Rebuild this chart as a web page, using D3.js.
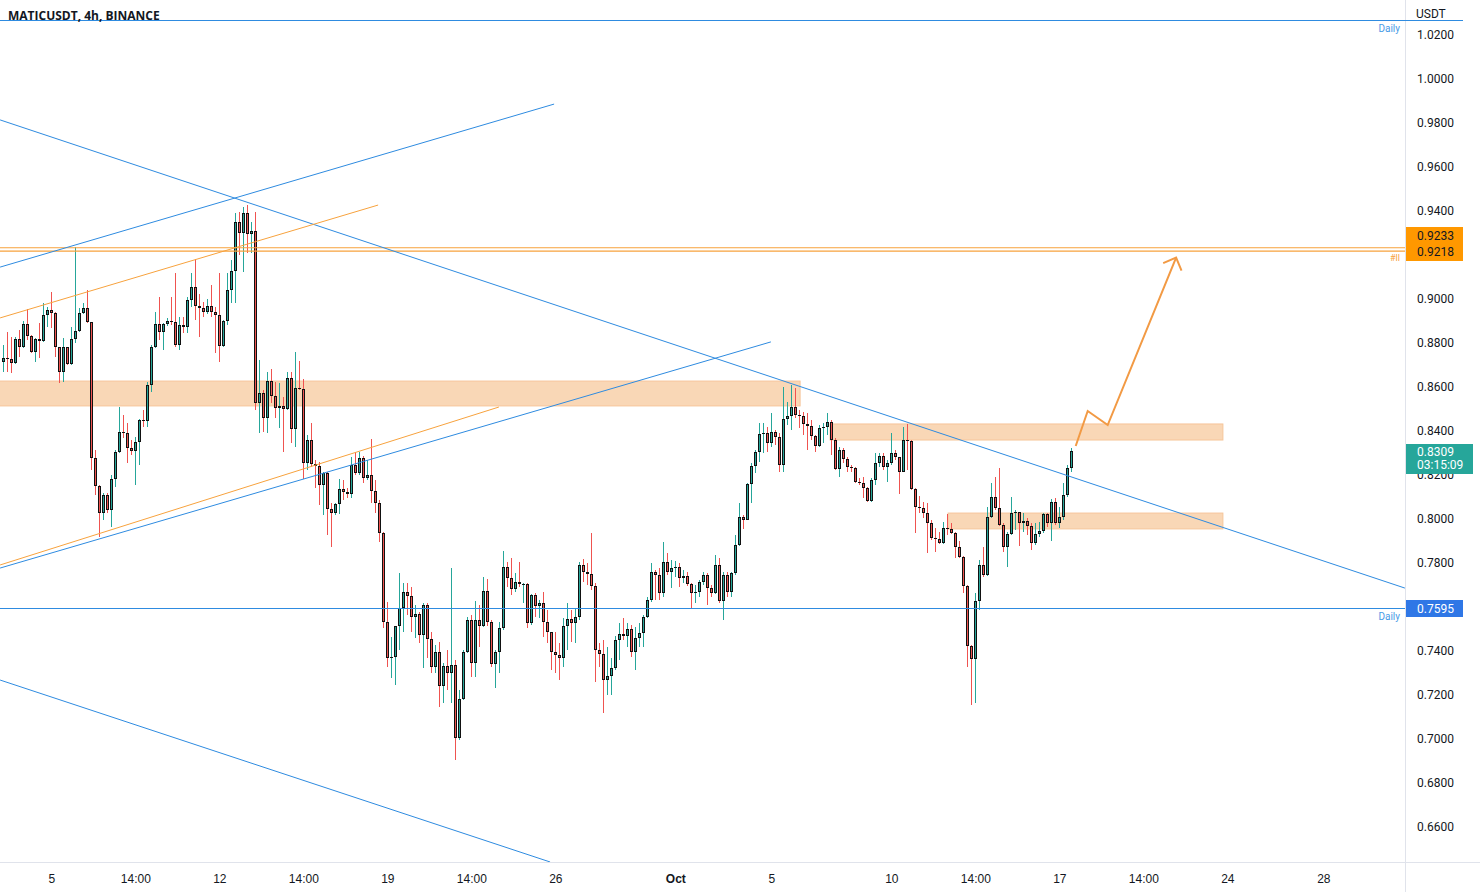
<!DOCTYPE html>
<html><head><meta charset="utf-8">
<script src="https://cdn.jsdelivr.net/npm/d3@7"></script>
<style>body{margin:0;background:#fff;}svg{display:block;font-family:Roboto,"Liberation Sans",Arial,sans-serif;}</style>
</head><body><svg id="chart" width="1480" height="892"></svg>
<script>
// ---- DATA (MATICUSDT 4h, bar index 0 = Sep 3 02:00) ----
const candleOpen = [.8714,.8732,.8727,.8709,.8818,.8782,.8886,.8832,.8759,.8818,.8809,.8927,.8950,.8936,.8782,.8668,.8782,.8705,.8818,.8855,.8936,.8959,.8895,.8277,.8150,.8027,.8109,.8041,.8182,.8305,.8395,.8391,.8323,.8309,.8350,.8450,.8445,.8609,.8782,.8886,.8850,.8886,.8900,.8895,.8791,.8882,.8873,.8995,.9055,.8968,.8959,.8941,.8968,.8941,.8927,.8786,.8900,.9041,.9127,.9350,.9300,.9391,.9295,.9309,.8527,.8573,.8459,.8627,.8559,.8505,.8514,.8500,.8641,.8409,.8595,.8591,.8255,.8359,.8250,.8241,.8155,.8209,.8045,.8027,.8068,.8136,.8123,.8114,.8245,.8209,.8277,.8186,.8200,.8127,.8073,.7936,.7532,.7368,.7373,.7514,.7595,.7668,.7650,.7555,.7568,.7473,.7609,.7455,.7327,.7395,.7241,.7332,.7300,.7336,.7005,.7182,.7395,.7541,.7345,.7541,.7514,.7673,.7532,.7341,.7395,.7505,.7782,.7732,.7682,.7714,.7705,.7705,.7527,.7655,.7605,.7618,.7532,.7486,.7395,.7382,.7368,.7514,.7545,.7527,.7555,.7791,.7759,.7750,.7695,.7405,.7386,.7268,.7286,.7323,.7450,.7477,.7468,.7500,.7395,.7459,.7482,.7555,.7632,.7759,.7745,.7664,.7805,.7759,.7777,.7782,.7732,.7741,.7705,.7664,.7668,.7714,.7745,.7686,.7664,.7791,.7627,.7745,.7668,.7755,.7882,.8009,.7995,.8159,.8241,.8305,.8386,.8391,.8345,.8395,.8373,.8245,.8455,.8468,.8509,.8473,.8468,.8432,.8423,.8377,.8332,.8414,.8418,.8441,.8359,.8227,.8314,.8273,.8236,.8232,.8168,.8164,.8141,.8082,.8177,.8255,.8286,.8236,.8255,.8300,.8282,.8214,.8359,.8355,.8136,.8055,.8050,.8027,.7982,.7914,.7909,.7891,.7959,.7955,.7936,.7873,.7827,.7695,.7423,.7364,.7627,.7791,.7745,.8009,.8100,.8050,.7973,.7873,.7932,.8027,.8032,.7982,.7991,.7968,.7891,.7932,.7945,.8023,.7982,.8077,.7982,.8009,.8109,.8232];
const candleHigh = [.8791,.8850,.8827,.8827,.8859,.8900,.8955,.8836,.8823,.8891,.8982,.8964,.9032,.8941,.8782,.8823,.8782,.8873,.9236,.8959,.8982,.9041,.8895,.8314,.8155,.8118,.8118,.8200,.8314,.8509,.8473,.8436,.8359,.8373,.8455,.8495,.8623,.8791,.8941,.9009,.8891,.8914,.9009,.9118,.8918,.8918,.9009,.9118,.9182,.9023,.8986,.9000,.9064,.8964,.9118,.8905,.9118,.9177,.9391,.9395,.9418,.9427,.9350,.9395,.8723,.8586,.8668,.8682,.8623,.8618,.8555,.8668,.8668,.8759,.8718,.8636,.8382,.8436,.8268,.8259,.8214,.8214,.8073,.8073,.8182,.8177,.8141,.8282,.8305,.8305,.8286,.8268,.8364,.8177,.8086,.7941,.7623,.7464,.7464,.7755,.7709,.7709,.7691,.7609,.7577,.7618,.7618,.7486,.7427,.7441,.7345,.7405,.7777,.7359,.7223,.7405,.7555,.7564,.7627,.7609,.7736,.7727,.7541,.7405,.7532,.7855,.7805,.7823,.7755,.7805,.7709,.7709,.7659,.7664,.7632,.7668,.7586,.7486,.7486,.7436,.7550,.7618,.7586,.7595,.7805,.7818,.7800,.7936,.7709,.7436,.7450,.7418,.7368,.7468,.7527,.7550,.7527,.7518,.7509,.7527,.7564,.7645,.7800,.7768,.7777,.7895,.7845,.7814,.7809,.7800,.7768,.7759,.7709,.7700,.7723,.7759,.7755,.7700,.7836,.7823,.7759,.7759,.7759,.7927,.8073,.8018,.8164,.8255,.8314,.8436,.8436,.8418,.8482,.8405,.8391,.8600,.8532,.8609,.8595,.8495,.8486,.8482,.8450,.8382,.8427,.8436,.8482,.8450,.8368,.8327,.8323,.8282,.8245,.8236,.8186,.8191,.8145,.8186,.8300,.8300,.8300,.8268,.8391,.8314,.8282,.8418,.8432,.8359,.8141,.8105,.8077,.8073,.7995,.7959,.7941,.7986,.8023,.7982,.7941,.7900,.7832,.7700,.7427,.7664,.7814,.7873,.8055,.8164,.8191,.8232,.7982,.7941,.8100,.8041,.8032,.8027,.8005,.7982,.7982,.7986,.8027,.8027,.8091,.8095,.8055,.8164,.8245,.8323];
const candleLow = [.8668,.8668,.8664,.8705,.8736,.8777,.8814,.8755,.8714,.8732,.8805,.8873,.8868,.8736,.8618,.8623,.8700,.8700,.8800,.8850,.8932,.8891,.8223,.8109,.7918,.7995,.8027,.7964,.8145,.8300,.8368,.8255,.8291,.8155,.8245,.8418,.8418,.8577,.8777,.8814,.8768,.8877,.8882,.8782,.8768,.8845,.8845,.8964,.8905,.8827,.8918,.8932,.8918,.8755,.8714,.8782,.8882,.8982,.8982,.9200,.9123,.9209,.9209,.8495,.8391,.8395,.8391,.8527,.8459,.8414,.8305,.8495,.8345,.8327,.8586,.8182,.8223,.8236,.8141,.8064,.8018,.7927,.7873,.8018,.8023,.8086,.8095,.8095,.8200,.8200,.8164,.8177,.8073,.8027,.7895,.7505,.7327,.7277,.7245,.7405,.7486,.7564,.7486,.7459,.7436,.7323,.7368,.7300,.7300,.7145,.7164,.7223,.7164,.6905,.6995,.7177,.7391,.7282,.7282,.7418,.7509,.7514,.7327,.7232,.7300,.7495,.7691,.7655,.7668,.7691,.7618,.7505,.7518,.7555,.7550,.7464,.7436,.7314,.7300,.7268,.7327,.7405,.7441,.7436,.7541,.7714,.7700,.7677,.7259,.7327,.7118,.7200,.7200,.7314,.7359,.7450,.7418,.7373,.7314,.7418,.7418,.7550,.7623,.7632,.7632,.7645,.7745,.7686,.7736,.7691,.7709,.7695,.7595,.7618,.7645,.7700,.7609,.7645,.7659,.7618,.7541,.7645,.7645,.7745,.7877,.7955,.7995,.8073,.8209,.8259,.8300,.8305,.8327,.8336,.8214,.8214,.8427,.8405,.8459,.8414,.8382,.8314,.8359,.8305,.8327,.8345,.8382,.8291,.8223,.8191,.8255,.8214,.8214,.8164,.8155,.8095,.8077,.8077,.8155,.8236,.8223,.8168,.8245,.8268,.8114,.8214,.8223,.8132,.7936,.8027,.8005,.7845,.7905,.7850,.7886,.7886,.7927,.7932,.7823,.7823,.7664,.7327,.7155,.7164,.7586,.7736,.7741,.8005,.8041,.7968,.7850,.7782,.7927,.7950,.7877,.7941,.7927,.7859,.7882,.7918,.7936,.7964,.7900,.7973,.7959,.7995,.8100,.8214];
const candleClose = [.8732,.8727,.8709,.8818,.8782,.8886,.8832,.8759,.8818,.8809,.8927,.8950,.8936,.8782,.8668,.8782,.8705,.8818,.8855,.8936,.8959,.8895,.8277,.8150,.8027,.8109,.8041,.8182,.8305,.8395,.8391,.8323,.8309,.8350,.8450,.8445,.8609,.8782,.8886,.8850,.8886,.8900,.8895,.8791,.8882,.8873,.8995,.9055,.8968,.8959,.8941,.8968,.8941,.8927,.8786,.8900,.9041,.9127,.9350,.9300,.9391,.9295,.9309,.8527,.8573,.8459,.8627,.8559,.8505,.8514,.8500,.8641,.8409,.8595,.8591,.8255,.8359,.8250,.8241,.8155,.8209,.8045,.8027,.8068,.8136,.8123,.8114,.8245,.8209,.8277,.8186,.8200,.8127,.8073,.7936,.7532,.7368,.7373,.7514,.7595,.7668,.7650,.7555,.7568,.7473,.7609,.7455,.7327,.7395,.7241,.7332,.7300,.7336,.7005,.7182,.7395,.7541,.7345,.7541,.7514,.7673,.7532,.7341,.7395,.7505,.7782,.7732,.7682,.7714,.7705,.7705,.7527,.7655,.7605,.7618,.7532,.7486,.7395,.7382,.7368,.7514,.7545,.7527,.7555,.7791,.7759,.7750,.7695,.7405,.7386,.7268,.7286,.7323,.7450,.7477,.7468,.7500,.7395,.7459,.7482,.7555,.7632,.7759,.7745,.7664,.7805,.7759,.7777,.7782,.7732,.7741,.7705,.7664,.7668,.7714,.7745,.7686,.7664,.7791,.7627,.7745,.7668,.7755,.7882,.8009,.7995,.8159,.8241,.8305,.8386,.8391,.8345,.8395,.8373,.8245,.8455,.8468,.8509,.8473,.8468,.8432,.8423,.8377,.8332,.8414,.8418,.8441,.8359,.8227,.8314,.8273,.8236,.8232,.8168,.8164,.8141,.8082,.8177,.8255,.8286,.8236,.8255,.8300,.8282,.8214,.8359,.8355,.8136,.8055,.8050,.8027,.7982,.7914,.7909,.7891,.7959,.7955,.7936,.7873,.7827,.7695,.7423,.7364,.7627,.7791,.7745,.8009,.8100,.8050,.7973,.7873,.7932,.8027,.8032,.7982,.7991,.7968,.7891,.7932,.7945,.8023,.7982,.8077,.7982,.8009,.8109,.8232,.8309];

// visible price-axis labels (0.9200 and 0.7600 sit under the level boxes)
const priceTicks = [1.02,1.00,0.98,0.96,0.94,0.90,0.88,0.86,0.84,0.82,0.80,0.78,0.74,0.72,0.70,0.68,0.66];
const timeTickIndex = [12,33,54,75,96,117,138,168,192,222,243,264,285,306,330];
const timeTickLabels = ["5","14:00","12","14:00","19","14:00","26","Oct","5","10","14:00","17","14:00","24","28"];
const boldTimeLabels = ["Oct"];

// horizontal levels
const dailyLevels = [1.0268, 0.7595];
const orangeLevels = [0.9233, 0.9218];
const lastPrice = 0.8309, countdown = "03:15:09";

// drawings: [barIndex, price]
const blueTrendLines = [
  [[-0.8,0.9814],[350.4,0.7686]],
  [[-0.8,0.9145],[137.7,0.9886]],
  [[-0.8,0.7777],[191.9,0.8805]],
  [[-0.8,0.7268],[136.7,0.6441]]
];
const orangeTrendLines = [
  [[-0.8,0.8914],[93.7,0.9427]],
  [[-0.8,0.7791],[123.9,0.8509]]
];
const arrowPath = [[268.1,0.8332],[271.1,0.8491],[276.1,0.8427],[293.2,0.9188]];
// zones: [startIndex, endIndex, top, bottom]
const zones = [
  [-1.5,199.2,0.8627,0.8514],
  [206.7,304.9,0.8432,0.8359],
  [236.2,304.9,0.8027,0.7955]
];

// ---- CHART ----
const W=1480,H=892,PR=1405,PB=862;
const UP="#26a69a", DN="#ef5350", BLUE="#2e8be0", ORANGE="#f7a23d";
const svg=d3.select("#chart");
svg.append("rect").attr("width",W).attr("height",H).attr("fill","#fff");
const x=d3.scaleLinear().domain([0,1]).range([3.3,7.3]);
const y=d3.scaleLinear().domain([0.66,1.02]).range([827,35]);

svg.append("clipPath").attr("id","clip").append("rect").attr("x",0).attr("y",0).attr("width",PR).attr("height",PB);
const plot=svg.append("g").attr("clip-path","url(#clip)");

// zones
plot.selectAll("rect.zone").data(zones).join("rect").attr("class","zone")
  .attr("x",d=>x(d[0])).attr("width",d=>x(d[1])-x(d[0]))
  .attr("y",d=>y(d[2])).attr("height",d=>y(d[3])-y(d[2]))
  .attr("fill","#f9d5b2").attr("fill-opacity",0.95).attr("stroke","#f6c59a").attr("stroke-width",1);

// candles
const data=candleOpen.map((o,i)=>({i,o,h:candleHigh[i],l:candleLow[i],c:candleClose[i]}));
const cg=plot.append("g").attr("shape-rendering","crispEdges");
const cx=d=>Math.floor(x(d.i));
cg.selectAll("rect.wick").data(data).join("rect")
  .attr("x",cx).attr("width",1)
  .attr("y",d=>y(d.h)).attr("height",d=>Math.max(1,y(d.l)-y(d.h)))
  .attr("fill",d=>d.c>=d.o?UP:DN);
cg.selectAll("rect.body").data(data).join("rect")
  .attr("x",d=>cx(d)-1).attr("width",3)
  .attr("y",d=>Math.round(y(Math.max(d.o,d.c))))
  .attr("height",d=>Math.max(1,Math.round(Math.abs(y(d.o)-y(d.c)))))
  .attr("fill","#111");
cg.selectAll("rect.inner").data(data.filter(d=>Math.abs(y(d.o)-y(d.c))>2.5)).join("rect")
  .attr("x",cx).attr("width",1)
  .attr("y",d=>Math.round(y(Math.max(d.o,d.c)))+1)
  .attr("height",d=>Math.round(Math.abs(y(d.o)-y(d.c)))-2)
  .attr("fill",d=>d.c>=d.o?UP:DN);

// horizontal levels
dailyLevels.forEach(p=>{
  plot.append("line").attr("x1",0).attr("x2",PR).attr("y1",Math.round(y(p))+0.5).attr("y2",Math.round(y(p))+0.5)
    .attr("stroke",BLUE).attr("stroke-width",1);
  svg.append("text").attr("x",1400).attr("y",Math.round(y(p))+12).attr("text-anchor","end")
    .attr("font-size",10).attr("fill","#4a9be6").text("Daily");
});
orangeLevels.forEach(p=>{
  plot.append("line").attr("x1",0).attr("x2",PR).attr("y1",y(p)).attr("y2",y(p))
    .attr("stroke",ORANGE).attr("stroke-width",1.2);
});
svg.append("text").attr("x",1400).attr("y",y(orangeLevels[1])+10).attr("text-anchor","end")
  .attr("font-size",9).attr("fill",ORANGE).text("#ll");

// trend lines
const line=d3.line().x(d=>x(d[0])).y(d=>y(d[1]));
plot.selectAll("path.bt").data(blueTrendLines).join("path").attr("d",line)
  .attr("fill","none").attr("stroke",BLUE).attr("stroke-width",1);
plot.selectAll("path.ot").data(orangeTrendLines).join("path").attr("d",line)
  .attr("fill","none").attr("stroke",ORANGE).attr("stroke-width",1);

// arrow
plot.append("path").attr("d",line(arrowPath)).attr("fill","none").attr("stroke","#f29a44")
  .attr("stroke-width",2).attr("stroke-linejoin","miter");
(function(){
  const a=arrowPath[arrowPath.length-2], b=arrowPath[arrowPath.length-1];
  const x1=x(a[0]),y1=y(a[1]),x2=x(b[0]),y2=y(b[1]);
  const ang=Math.atan2(y1-y2,x1-x2), L=14, sp=Math.PI/4;
  const p1=[x2+L*Math.cos(ang+sp),y2+L*Math.sin(ang+sp)], p2=[x2+L*Math.cos(ang-sp),y2+L*Math.sin(ang-sp)];
  plot.append("path").attr("d",`M${p1}L${x2},${y2}L${p2}`).attr("fill","none")
    .attr("stroke","#f29a44").attr("stroke-width",2);
})();

// borders
svg.append("line").attr("x1",PR+0.5).attr("x2",PR+0.5).attr("y1",0).attr("y2",H).attr("stroke","#e0e3eb");
svg.append("line").attr("x1",0).attr("x2",W).attr("y1",PB+0.5).attr("y2",PB+0.5).attr("stroke","#e0e3eb");

// price axis
const yAxis=d3.axisRight(y).tickValues(priceTicks).tickFormat(d3.format(".4f")).tickSize(0).tickPadding(12);
const ya=svg.append("g").attr("transform",`translate(${PR},0)`).call(yAxis);
ya.select(".domain").remove();
ya.selectAll("text").attr("font-size",12).attr("fill","#131722").attr("font-family","Roboto,Arial,sans-serif");
svg.append("text").attr("x",1416).attr("y",18).attr("font-size",12).attr("fill","#131722").text("USDT");
svg.append("line").attr("x1",PR).attr("x2",1463).attr("y1",Math.round(y(dailyLevels[0]))+0.5).attr("y2",Math.round(y(dailyLevels[0]))+0.5).attr("stroke",BLUE);

// time axis
const xAxis=d3.axisBottom(x).tickValues(timeTickIndex).tickFormat((d,i)=>timeTickLabels[i]).tickSize(0).tickPadding(12);
const xa=svg.append("g").attr("transform",`translate(0,${PB})`).call(xAxis);
xa.select(".domain").remove();
xa.selectAll("text").attr("font-size",12).attr("fill","#131722")
  .attr("font-weight",d=>boldTimeLabels.includes(timeTickLabels[timeTickIndex.indexOf(d)])?"bold":null);

// price label boxes
function box(yTop,h,w,fill){svg.append("rect").attr("x",PR+1).attr("y",yTop).attr("width",w).attr("height",h).attr("fill",fill);}
box(Math.round(y(orangeLevels[0]))-21,34,57,"#ff9800");
orangeLevels.forEach((p,i)=>svg.append("text").attr("x",1417).attr("y",i===0?240:256).attr("font-size",12).attr("fill","#131722").text(d3.format(".4f")(p)));
box(Math.round(y(dailyLevels[1]))-8,17,57,"#2f77e6");
svg.append("text").attr("x",1417).attr("y",Math.round(y(dailyLevels[1]))+4.5).attr("font-size",12).attr("fill","#fff").text(d3.format(".4f")(dailyLevels[1]));
box(Math.round(y(lastPrice))-7,30,67,UP);
svg.append("text").attr("x",1417).attr("y",Math.round(y(lastPrice))+5).attr("font-size",12).attr("fill","#fff").text(d3.format(".4f")(lastPrice));
svg.append("text").attr("x",1417).attr("y",Math.round(y(lastPrice))+18).attr("font-size",12).attr("fill","#fff").text(countdown);

// title
svg.append("text").attr("x",8).attr("y",20).attr("font-size",12).attr("font-weight","bold")
  .attr("font-family","'Open Sans',Arial,sans-serif").attr("fill","#131722").text("MATICUSDT, 4h, BINANCE");
</script></body></html>
